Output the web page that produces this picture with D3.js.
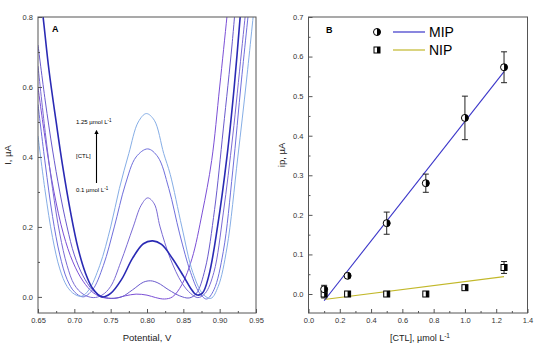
<!DOCTYPE html>
<html>
<head>
<meta charset="utf-8">
<script src="https://cdn.jsdelivr.net/npm/d3@7"></script>
<style>
  body { margin: 0; background: #fff; }
  svg text { font-family: "Liberation Sans", Arial, sans-serif; }
</style>
</head>
<body>
<div id="chart"></div>
<script>
// ---- panel A : voltammograms, [V, uA] ----
var curve125 = [[0.650,0.46],[0.660,0.30],[0.670,0.17],[0.680,0.08],[0.690,0.03],[0.700,0.008],[0.710,0.002],[0.720,0.02],[0.735,0.09],[0.750,0.20],[0.762,0.31],[0.775,0.41],[0.788,0.50],[0.799,0.524],[0.810,0.505],[0.823,0.41],[0.832,0.35],[0.848,0.20],[0.863,0.07],[0.877,0.008],[0.888,-0.004],[0.898,0.03],[0.910,0.14],[0.925,0.40],[0.937,0.62],[0.948,0.84]];
var curve100 = [[0.650,0.55],[0.660,0.38],[0.670,0.23],[0.680,0.12],[0.690,0.05],[0.700,0.015],[0.712,0.0],[0.725,0.02],[0.740,0.09],[0.755,0.20],[0.770,0.32],[0.785,0.40],[0.801,0.423],[0.815,0.40],[0.830,0.31],[0.845,0.18],[0.860,0.07],[0.872,0.012],[0.882,-0.006],[0.892,0.02],[0.905,0.13],[0.918,0.36],[0.930,0.62],[0.942,0.86]];
var curve075 = [[0.650,0.66],[0.660,0.47],[0.670,0.31],[0.680,0.18],[0.690,0.09],[0.700,0.035],[0.712,0.008],[0.726,-0.002],[0.738,0.005],[0.750,0.03],[0.764,0.10],[0.781,0.20],[0.792,0.262],[0.801,0.283],[0.810,0.266],[0.818,0.20],[0.832,0.11],[0.848,0.04],[0.860,0.01],[0.870,-0.002],[0.880,0.01],[0.892,0.07],[0.905,0.24],[0.918,0.46],[0.930,0.70],[0.938,0.86]];
var curve050 = [[0.650,0.92],[0.657,0.80],[0.665,0.65],[0.675,0.50],[0.684,0.373],[0.695,0.24],[0.705,0.14],[0.715,0.07],[0.725,0.025],[0.738,0.0],[0.750,0.01],[0.765,0.05],[0.780,0.11],[0.795,0.152],[0.808,0.16],[0.820,0.15],[0.835,0.11],[0.850,0.06],[0.860,0.025],[0.868,0.006],[0.876,0.01],[0.885,0.06],[0.897,0.20],[0.910,0.40],[0.920,0.60],[0.929,0.82]];
var curve025 = [[0.650,0.72],[0.660,0.56],[0.670,0.42],[0.680,0.30],[0.690,0.20],[0.700,0.12],[0.712,0.06],[0.725,0.02],[0.738,0.002],[0.750,-0.004],[0.765,0.0],[0.780,0.02],[0.795,0.042],[0.805,0.046],[0.815,0.04],[0.830,0.02],[0.845,0.003],[0.858,-0.003],[0.868,0.01],[0.880,0.08],[0.893,0.25],[0.905,0.48],[0.917,0.72],[0.922,0.84]];
var curve010 = [[0.650,0.60],[0.660,0.45],[0.672,0.30],[0.685,0.18],[0.698,0.10],[0.712,0.045],[0.726,0.012],[0.740,-0.002],[0.755,-0.004],[0.770,0.003],[0.785,0.008],[0.800,0.005],[0.812,-0.002],[0.824,-0.006],[0.835,0.0],[0.848,0.035],[0.862,0.11],[0.876,0.24],[0.889,0.39],[0.900,0.60],[0.910,0.80],[0.913,0.86]];
var curveList = [curve010, curve025, curve075, curve100, curve125, curve050];
var curveColors = ["#7b4fd6", "#6a5acd", "#7a6ad4", "#6f6fdc", "#86aee6", "#2a2ab4"];
var curveWidths = [1, 1, 1, 1, 1, 1.6];

var ticksA_x = [0.65, 0.70, 0.75, 0.80, 0.85, 0.90, 0.95];
var ticksA_y = [0.0, 0.2, 0.4, 0.6, 0.8];

// ---- panel B : calibration ----
var conc = [0.1, 0.25, 0.5, 0.75, 1.0, 1.25];
var mipVal = [0.012, 0.046, 0.179, 0.280, 0.445, 0.573];
var mipErr = [0.010, 0.004, 0.028, 0.023, 0.055, 0.039];
var nipVal = [0.000, 0.000, 0.000, 0.000, 0.016, 0.067];
var nipErr = [0.010, 0.002, 0.002, 0.002, 0.003, 0.015];
var mipFit = [[0.1, -0.017], [1.25, 0.562]];
var nipFit = [[0.1, -0.014], [1.25, 0.044]];
var ticksB_x = [0.0, 0.2, 0.4, 0.6, 0.8, 1.0, 1.2, 1.4];
var ticksB_y = [0.0, 0.1, 0.2, 0.3, 0.4, 0.5, 0.6, 0.7];

var svg = d3.select("#chart").append("svg")
  .attr("width", 550)
  .attr("height", 350);

var frameColor = "#555";
var tickFont = "7.5px";

// helper to draw the boxed axes with inward ticks
function drawAxes(g, x, y, xt, yt, xMinor, yMinor, xFmt, yFmt) {
  var r = x.range(), d = y.range();
  g.append("rect")
    .attr("x", r[0]).attr("y", d[1])
    .attr("width", r[1] - r[0]).attr("height", d[0] - d[1])
    .attr("fill", "none").attr("stroke", frameColor).attr("stroke-width", 1);

  var ax = g.append("g").attr("transform", `translate(0,${d[0]})`)
    .call(d3.axisBottom(x).tickValues(xt).tickSizeInner(-4).tickSizeOuter(0).tickPadding(5).tickFormat(d3.format(xFmt)));
  var axm = g.append("g").attr("transform", `translate(0,${d[0]})`)
    .call(d3.axisBottom(x).tickValues(xMinor).tickSizeInner(-2).tickSizeOuter(0).tickFormat(""));
  var ay = g.append("g").attr("transform", `translate(${r[0]},0)`)
    .call(d3.axisLeft(y).tickValues(yt).tickSizeInner(-4).tickSizeOuter(0).tickPadding(5).tickFormat(d3.format(yFmt)));
  var aym = g.append("g").attr("transform", `translate(${r[0]},0)`)
    .call(d3.axisLeft(y).tickValues(yMinor).tickSizeInner(-2).tickSizeOuter(0).tickFormat(""));

  [ax, axm, ay, aym].forEach(function (a) {
    a.select(".domain").remove();
    a.selectAll("line").attr("stroke", frameColor);
    a.selectAll("text").style("font-size", tickFont).attr("fill", "#333")
      .style("font-family", "'Liberation Sans', Arial, sans-serif");
  });
}

// ================= Panel A =================
var xA = d3.scaleLinear().domain([0.65, 0.95]).range([38, 256]);
var yA = d3.scaleLinear().domain([-0.046, 0.8]).range([313, 17]);
var gA = svg.append("g");

gA.append("clipPath").attr("id", "clipA")
  .append("rect").attr("x", 38).attr("y", 17).attr("width", 218).attr("height", 296);

var lineA = d3.line()
  .x(d => xA(d[0]))
  .y(d => yA(d[1]))
  .curve(d3.curveCatmullRom.alpha(0.5));

gA.append("g").attr("clip-path", "url(#clipA)")
  .selectAll("path")
  .data(curveList)
  .enter()
  .append("path")
  .attr("d", lineA)
  .attr("fill", "none")
  .attr("stroke", (d, i) => curveColors[i])
  .attr("stroke-width", (d, i) => curveWidths[i]);

drawAxes(gA, xA, yA, ticksA_x, ticksA_y,
  d3.range(0.675, 0.95, 0.05), d3.range(0.1, 0.8, 0.2), ".2f", ".1f");

gA.append("text").attr("x", 52).attr("y", 32)
  .style("font-size", "9px").style("font-weight", "bold").text("A");

// concentration arrow
gA.append("defs").append("marker")
  .attr("id", "arrowHead").attr("viewBox", "0 0 10 10")
  .attr("refX", 5).attr("refY", 5)
  .attr("markerWidth", 4).attr("markerHeight", 5)
  .attr("orient", "auto")
  .append("path").attr("d", "M0,0 L10,5 L0,10 Z").attr("fill", "#000");
gA.append("line")
  .attr("x1", 96.5).attr("x2", 96.5).attr("y1", 183).attr("y2", 132)
  .attr("stroke", "#000").attr("stroke-width", 1.1)
  .attr("marker-end", "url(#arrowHead)");
gA.append("text").attr("x", 76).attr("y", 124).style("font-size", "6px")
  .html("1.25 µmol L<tspan dy='-2' font-size='4.5px'>-1</tspan>");
gA.append("text").attr("x", 76).attr("y", 158).style("font-size", "6px").text("[CTL]");
gA.append("text").attr("x", 76).attr("y", 192).style("font-size", "6px")
  .html("0.1 µmol L<tspan dy='-2' font-size='4.5px'>-1</tspan>");

gA.append("text").attr("x", 147).attr("y", 341)
  .attr("text-anchor", "middle").style("font-size", "9.5px").attr("fill", "#222")
  .text("Potential, V");
gA.append("text")
  .attr("transform", "translate(11,155) rotate(-90)")
  .attr("text-anchor", "middle").style("font-size", "9.5px").attr("fill", "#222")
  .text("I, µA");

// ================= Panel B =================
var xB = d3.scaleLinear().domain([0, 1.4]).range([308.5, 527.5]);
var yB = d3.scaleLinear().domain([-0.048, 0.7]).range([313, 17]);
var gB = svg.append("g");

drawAxes(gB, xB, yB, ticksB_x, ticksB_y,
  d3.range(0.1, 1.4, 0.2), d3.range(0.05, 0.7, 0.1), ".1f", ".1f");

var fitLine = d3.line().x(d => xB(d[0])).y(d => yB(d[1]));
gB.append("path").attr("d", fitLine(nipFit))
  .attr("fill", "none").attr("stroke", "#c2b82a").attr("stroke-width", 1.1);
gB.append("path").attr("d", fitLine(mipFit))
  .attr("fill", "none").attr("stroke", "#3b36c9").attr("stroke-width", 1.1);

function errorBars(vals, errs) {
  var eb = gB.append("g").attr("stroke", "#222").attr("stroke-width", 1);
  conc.forEach(function (c, i) {
    var cx = xB(c), y0 = yB(vals[i] - errs[i]), y1 = yB(vals[i] + errs[i]);
    eb.append("line").attr("x1", cx).attr("x2", cx).attr("y1", y0).attr("y2", y1);
    eb.append("line").attr("x1", cx - 3).attr("x2", cx + 3).attr("y1", y0).attr("y2", y0);
    eb.append("line").attr("x1", cx - 3).attr("x2", cx + 3).attr("y1", y1).attr("y2", y1);
  });
}
errorBars(nipVal, nipErr);
errorBars(mipVal, mipErr);

function halfCircle(g, cx, cy, r) {
  g.append("circle").attr("cx", cx).attr("cy", cy).attr("r", r)
    .attr("fill", "#fff").attr("stroke", "#000").attr("stroke-width", 1);
  g.append("path")
    .attr("d", `M${cx},${cy - r} A${r},${r} 0 0 1 ${cx},${cy + r} Z`)
    .attr("fill", "#000");
}
function halfSquare(g, cx, cy, s) {
  g.append("rect").attr("x", cx - s / 2).attr("y", cy - s / 2).attr("width", s).attr("height", s)
    .attr("fill", "#fff").attr("stroke", "#000").attr("stroke-width", 1);
  g.append("rect").attr("x", cx).attr("y", cy - s / 2).attr("width", s / 2).attr("height", s)
    .attr("fill", "#000");
}

var marks = gB.append("g");
conc.forEach(function (c, i) { halfSquare(marks, xB(c), yB(nipVal[i]), 6); });
conc.forEach(function (c, i) { halfCircle(marks, xB(c), yB(mipVal[i]), 3.5); });

// legend
var leg = gB.append("g");
halfCircle(leg, 377, 32, 3.5);
leg.append("line").attr("x1", 393).attr("x2", 425).attr("y1", 32).attr("y2", 32)
  .attr("stroke", "#3b36c9").attr("stroke-width", 1.2);
leg.append("text").attr("x", 429).attr("y", 37).style("font-size", "14px").text("MIP");
halfSquare(leg, 377, 50, 6);
leg.append("line").attr("x1", 393).attr("x2", 425).attr("y1", 50).attr("y2", 50)
  .attr("stroke", "#c2b82a").attr("stroke-width", 1.2);
leg.append("text").attr("x", 429).attr("y", 55).style("font-size", "14px").text("NIP");

gB.append("text").attr("x", 326).attr("y", 33)
  .style("font-size", "9px").style("font-weight", "bold").text("B");

gB.append("text").attr("x", 420).attr("y", 341)
  .attr("text-anchor", "middle").style("font-size", "9px").attr("fill", "#222")
  .html("[CTL], µmol L<tspan dy='-3' font-size='6.5px'>-1</tspan>");
gB.append("text")
  .attr("transform", "translate(285,155) rotate(-90)")
  .attr("text-anchor", "middle").style("font-size", "9.5px").attr("fill", "#222")
  .text("ip, µA");
</script>
</body>
</html>
